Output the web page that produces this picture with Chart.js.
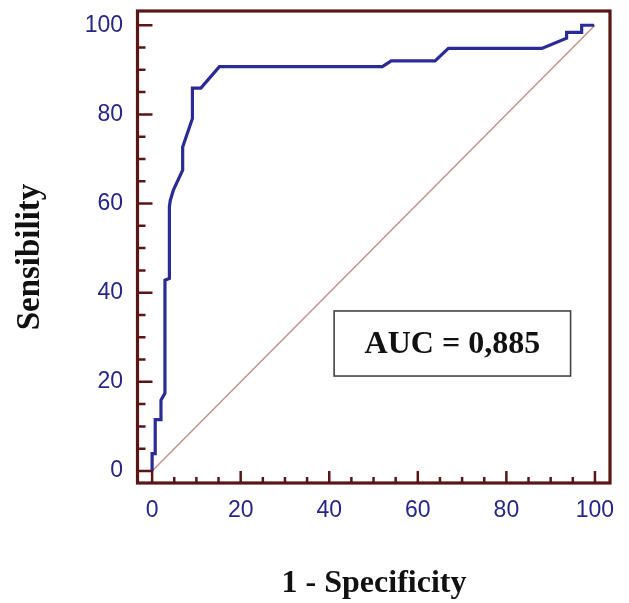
<!DOCTYPE html>
<html>
<head>
<meta charset="utf-8">
<script src="https://cdn.jsdelivr.net/npm/chart.js@4.4.0/dist/chart.umd.min.js"></script>
<style>
  html, body { margin: 0; padding: 0; background: #fff; }
</style>
</head>
<body>
<canvas id="roc" width="629" height="603"></canvas>
<script>
// ROC curve (1 - specificity vs sensitivity, in %)
const fpr  = [0, 0, 0.7, 0.7, 2.0, 2.0, 2.9, 2.9, 3.9, 3.9, 4.1, 4.8, 6.9, 6.9, 9.1, 9.1, 11.0, 15.2, 52.0, 54.0, 63.9, 66.9, 88.0, 93.6, 93.6, 97.0, 97.0, 99.8];
const sens = [0, 3.9, 3.9, 11.5, 11.5, 15.9, 17.5, 42.8, 43.2, 59.3, 60.7, 63.0, 67.5, 72.7, 79.1, 85.9, 85.9, 90.7, 90.7, 92.0, 92.0, 94.8, 94.8, 97.1, 98.4, 98.4, 100, 100];
// reference (chance) line
const diagX = [0, 100];
const diagY = [0, 100];

const xTitle = '1 - Specificity';
const yTitle = 'Sensibility';
const aucText = 'AUC = 0,885';
// AUC box corners in data units
const aucBox = { x0: 41.1, x1: 94.5, y0: 21.3, y1: 35.9 };

const TICK_STEP = 5;
const MAJOR_STEP = 20;

const FRAME = '#5a1616';
const CURVE = '#2b2b96';
const LABEL = '#26268a';

const pts = (xs, ys) => xs.map((v, i) => ({ x: v, y: ys[i] }));

// frame, inward ticks, AUC box and axis titles
const framePlugin = {
  id: 'frame',
  afterDraw(chart) {
    const { ctx, chartArea: a, scales: { x, y } } = chart;
    ctx.save();
    ctx.strokeStyle = FRAME;
    ctx.lineWidth = 2.5;
    ctx.beginPath();
    x.ticks.forEach(t => {
      const px = x.getPixelForValue(t.value);
      const len = t.value % MAJOR_STEP === 0 ? 12 : 6;
      ctx.moveTo(px, a.bottom); ctx.lineTo(px, a.bottom - len);
    });
    y.ticks.forEach(t => {
      const py = y.getPixelForValue(t.value);
      const len = t.value % MAJOR_STEP === 0 ? 15 : 8;
      ctx.moveTo(a.left, py); ctx.lineTo(a.left + len, py);
    });
    ctx.stroke();
    ctx.lineWidth = 3.2;
    ctx.strokeRect(a.left, a.top, a.right - a.left, a.bottom - a.top);

    // AUC box
    const bx0 = x.getPixelForValue(aucBox.x0), bx1 = x.getPixelForValue(aucBox.x1);
    const by0 = y.getPixelForValue(aucBox.y1), by1 = y.getPixelForValue(aucBox.y0);
    ctx.fillStyle = '#fff';
    ctx.fillRect(bx0, by0, bx1 - bx0, by1 - by0);
    ctx.strokeStyle = '#444';
    ctx.lineWidth = 1.6;
    ctx.strokeRect(bx0, by0, bx1 - bx0, by1 - by0);
    ctx.fillStyle = '#111';
    ctx.font = 'bold 32px "Liberation Serif", "Times New Roman", serif';
    ctx.textAlign = 'center';
    ctx.textBaseline = 'alphabetic';
    ctx.fillText(aucText, (bx0 + bx1) / 2, (by0 + by1) / 2 + 10);

    // axis titles
    ctx.fillText(xTitle, 374, 592);
    ctx.font = 'bold 33px "Liberation Serif", "Times New Roman", serif';
    ctx.translate(38.5, 257);
    ctx.rotate(-Math.PI / 2);
    ctx.fillText(yTitle, 0, 0);
    ctx.restore();
  }
};

const tickFont = { family: '"Liberation Sans", Arial, sans-serif', size: 23 };
const majorOnly = v => (v % MAJOR_STEP === 0 ? v : '');

new Chart(document.getElementById('roc'), {
  type: 'line',
  data: {
    datasets: [
      {
        data: pts(fpr, sens),
        borderColor: CURVE,
        borderWidth: 3.2,
        pointRadius: 0,
        tension: 0,
        fill: false,
        order: 1
      },
      {
        data: pts(diagX, diagY),
        borderColor: '#c29088',
        borderWidth: 1.4,
        pointRadius: 0,
        tension: 0,
        fill: false,
        order: 2
      }
    ]
  },
  options: {
    responsive: false,
    animation: false,
    layout: { padding: { top: 11, right: 19, left: 0, bottom: 0 } },
    plugins: { legend: { display: false }, tooltip: { enabled: false } },
    scales: {
      x: {
        type: 'linear',
        min: -3.3,
        max: 103.4,
        grid: { display: false, drawTicks: false },
        border: { display: false },
        afterFit: s => { s.height = 120; s.paddingLeft = 0; s.paddingRight = 0; },
        ticks: {
          stepSize: TICK_STEP,
          includeBounds: false,
          autoSkip: false,
          maxRotation: 0,
          padding: 14,
          color: LABEL,
          font: tickFont,
          callback: majorOnly
        }
      },
      y: {
        type: 'linear',
        min: -2.7,
        max: 103.2,
        grid: { display: false, drawTicks: false },
        border: { display: false },
        afterFit: s => { s.width = 137.5; s.paddingTop = 0; s.paddingBottom = 0; },
        ticks: {
          stepSize: TICK_STEP,
          includeBounds: false,
          autoSkip: false,
          padding: 14.5,
          color: LABEL,
          font: tickFont,
          callback: majorOnly
        }
      }
    }
  },
  plugins: [framePlugin]
});
</script>
</body>
</html>
